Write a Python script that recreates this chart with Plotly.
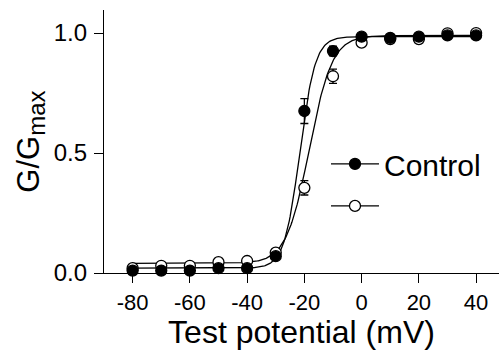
import numpy as np
import plotly.graph_objects as go

voltages = [-80, -70, -60, -50, -40, -30, -20, -10, 0, 10, 20, 30, 40]
control_g = [0.01, 0.01, 0.01, 0.02, 0.02, 0.07, 0.675, 0.925, 0.985, 0.98, 0.985, 0.99, 0.99]
control_err = [0, 0, 0, 0, 0, 0, 0.052, 0.02, 0, 0, 0, 0, 0]
treated_g = [0.02, 0.03, 0.03, 0.045, 0.05, 0.085, 0.355, 0.82, 0.96, 0.975, 0.975, 0.999, 1.0]
treated_err = [0, 0, 0, 0, 0, 0, 0.03, 0.03, 0.012, 0, 0, 0, 0]

# Boltzmann fit parameters (bottom, top, V1/2, slope)
control_fit = (0.02, 0.985, -21.6, 2.7)
treated_fit = (0.04, 0.99, -18.3, 4.0)

x_ticks = [-80, -60, -40, -20, 0, 20, 40]
x_tick_labels = ["-80", "-60", "-40", "-20", "0", "20", "40"]
y_ticks = [0.0, 0.5, 1.0]
y_tick_labels = ["0.0", "0.5", "1.0"]

vfit = np.linspace(-80, 40, 400)


def boltz(v, p):
    b, t, vh, k = p
    return b + (t - b) / (1 + np.exp((vh - v) / k))


fig = go.Figure()
for p in (control_fit, treated_fit):
    fig.add_trace(go.Scatter(x=vfit, y=boltz(vfit, p), mode="lines",
                             line=dict(color="black", width=1.3),
                             showlegend=False, hoverinfo="skip", cliponaxis=False))

fig.add_trace(go.Scatter(
    x=voltages, y=treated_g, mode="markers", name=" ",
    error_y=dict(type="data", array=treated_err, color="black", thickness=1.3, width=4),
    marker=dict(symbol="circle", size=11, color="white", line=dict(color="black", width=1.3)),
    cliponaxis=False, showlegend=False))
fig.add_trace(go.Scatter(
    x=voltages, y=control_g, mode="markers", name="Control",
    error_y=dict(type="data", array=control_err, color="black", thickness=1.3, width=4),
    marker=dict(symbol="circle", size=11, color="black", line=dict(color="black", width=1.3)),
    cliponaxis=False, showlegend=False))

# legend entries
fig.add_trace(go.Scatter(x=[None], y=[None], mode="lines+markers", name="Control",
                         line=dict(color="black", width=1.3),
                         marker=dict(size=11, color="black", line=dict(color="black", width=1.3)),
                         legendgroup="a"))
fig.add_trace(go.Scatter(x=[None], y=[None], mode="lines+markers", name=" ",
                         line=dict(color="black", width=1.3),
                         marker=dict(size=11, color="white", line=dict(color="black", width=1.3)),
                         legendgroup="b"))

fig.add_annotation(
    text="G/G<sub><span style='font-size:24px'>max</span></sub>",
    xref="paper", yref="paper", x=-0.187, y=0.5, xanchor="center", yanchor="middle",
    textangle=-90, showarrow=False, font=dict(size=31, color="black"))

fig.update_layout(
    width=499, height=350,
    margin=dict(l=104, r=0, t=10, b=77),
    paper_bgcolor="white", plot_bgcolor="white",
    font=dict(family="Liberation Sans, Arial, sans-serif", color="black"),
    showlegend=True,
    legend=dict(x=0.562, y=0.335, xanchor="left", yanchor="middle",
                font=dict(size=30), tracegroupgap=0, itemwidth=48,
                bgcolor="rgba(0,0,0,0)"),
    xaxis=dict(range=[-90, 48], tickvals=x_ticks, ticktext=x_tick_labels,
               ticks="outside", ticklen=9,
               tickwidth=1.3, tickcolor="black", showline=True, linecolor="black",
               linewidth=1.3, showgrid=False, zeroline=False,
               tickfont=dict(size=22),
               title=dict(text="Test potential (mV)", font=dict(size=32), standoff=7)),
    yaxis=dict(range=[0, 1.096], tickvals=y_ticks, ticktext=y_tick_labels,
               ticks="outside", ticklen=9, tickwidth=1.3, tickcolor="black",
               showline=True, linecolor="black", linewidth=1.3, showgrid=False,
               zeroline=False, tickfont=dict(size=24), ticklabelstandoff=2),
)

fig.write_html("out.html")
